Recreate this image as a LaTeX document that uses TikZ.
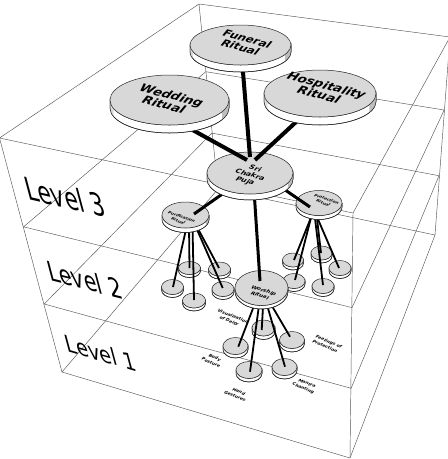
\documentclass[tikz,border=0pt]{standalone}
\usepackage{fontspec}
\setmainfont{DejaVu Sans}
\definecolor{discgray}{RGB}{216,216,216}
\definecolor{rimshade}{RGB}{190,190,190}
\definecolor{boxline}{RGB}{85,85,85}
\tikzset{
  boxedge/.style={draw=boxline, line width=0.45pt},
  connA/.style={draw=black, line width=4pt},
  connB/.style={draw=black, line width=3pt},
  connC/.style={draw=black, line width=1.8pt},
  disctop/.style={fill=discgray, draw=black!85, line width=0.5pt},
  discrim/.style={fill=white, draw=black!85, line width=0.5pt},
  rimend/.style={fill=rimshade},
  lvl/.style={font=\fontsize{30}{30}\selectfont, inner sep=0pt},
  bigtext/.style={align=center, inner sep=0pt, rotate=-15, xslant=0.45, yscale=0.85},
  midtext/.style={align=center, inner sep=0pt, rotate=-18, xslant=0.4, yscale=0.85},
  smalltext/.style={align=center, inner sep=0pt, rotate=-22, xslant=0.3, yscale=0.9,
    font=\bfseries\fontsize{4.5}{6.4}\selectfont}
}
% name, cx, cy, rx, ry, thickness
\newcommand\drawdisc[6]{%
  \coordinate (#1) at (#2,#3);
  \path[discrim] (#2-#4,#3) -- (#2-#4,#3+#6)
    arc[start angle=180,end angle=0,x radius=#4,y radius=#5]
    -- (#2+#4,#3)
    arc[start angle=0,end angle=180,x radius=#4,y radius=#5] -- cycle;
  \path[rimend] (#2+#4,#3) -- (#2+#4,#3+#6)
    arc[start angle=0,end angle=28,x radius=#4,y radius=#5]
    -- ++(0,-#6)
    arc[start angle=28,end angle=0,x radius=#4,y radius=#5] -- cycle;
  \path[fill=rimshade!55] (#2-#4,#3) -- (#2-#4,#3+#6)
    arc[start angle=180,end angle=160,x radius=#4,y radius=#5]
    -- ++(0,-#6)
    arc[start angle=160,end angle=180,x radius=#4,y radius=#5] -- cycle;
  \draw[black!85, line width=0.5pt] (#2-#4,#3) -- (#2-#4,#3+#6)
    arc[start angle=180,end angle=0,x radius=#4,y radius=#5] -- (#2+#4,#3);
  \path[disctop] (#1) ellipse[x radius=#4,y radius=#5];
}
\begin{document}
\begin{tikzpicture}[x=1pt,y=-1pt]
\useasboundingbox (0,0) rectangle (448,459);
\clip (0,0) rectangle (448,459);
% ---------- box ----------
\coordinate (fl0) at (-0.5,138);  \coordinate (fl1) at (23.6,226.8);
\coordinate (fl2) at (44.2,304);  \coordinate (fl3) at (62,372);
\coordinate (fr0) at (353,213);   \coordinate (fr1) at (352,307.6);
\coordinate (fr2) at (351.1,388.3); \coordinate (fr3) at (350,458);
\coordinate (br0) at (450,37);    \coordinate (br1) at (444.2,110);
\coordinate (br2) at (439,175.7); \coordinate (br3) at (435,235);
\coordinate (bl0) at (199,4);     \coordinate (bl1) at (205.8,71.7);
\coordinate (bl2) at (211.9,133.1); \coordinate (bl3) at (218,189);
\foreach \k in {0,...,3} \draw[boxedge] (fl\k) -- (fr\k) -- (br\k) -- (bl\k) -- cycle;
\foreach \c in {fl,fr,br,bl} \draw[boxedge] (\c0) -- (\c3);
% ---------- level labels ----------
\node[lvl, cm={0.737,-0.166,-0.28,1.05,(0,0)}] (lv3) at (65,197) {Level 3};
\node[lvl, cm={0.685,-0.171,-0.24,0.91,(0,0)}] (lv2) at (84.5,280) {Level 2};
\node[lvl, cm={0.652,-0.189,-0.21,0.78,(0,0)}] (lv1) at (100.5,353) {Level 1};
% ---------- level 1 leaves ----------
\drawdisc{vis}{263.5}{328}{11.5}{8}{3.5}
\drawdisc{feel}{292}{340}{12.5}{8.5}{3.5}
\drawdisc{body}{235.5}{346}{12.5}{8.5}{3.5}
\drawdisc{mantra}{284.5}{367}{12.5}{8.5}{3.5}
\drawdisc{hand}{249}{370}{13}{8.5}{3.5}
% ---------- level 2 leaves ----------
\drawdisc{pa}{189.5}{268}{11}{6.5}{3}
\drawdisc{pb}{219.5}{269}{11}{7}{3}
\drawdisc{pc}{172.5}{287}{11}{7.5}{3}
\drawdisc{pd}{223}{289}{11}{7.5}{3}
\drawdisc{pe}{194}{300.5}{11.5}{7.5}{3}
\drawdisc{qg}{321.5}{253}{10.5}{7}{3}
\drawdisc{qf}{293}{260}{10.5}{7}{3}
\drawdisc{qh}{340}{268}{11}{7.5}{3}
\drawdisc{qi}{294}{281}{11}{7.5}{3}
\drawdisc{qj}{323}{286}{11}{7.5}{3}
% ---------- leaf labels ----------
\node[smalltext] (tvis) at (231,319) {Visualization\\of Deity};
\node[smalltext] (tfeel) at (327,344) {Feelings of\\Protection};
\node[smalltext] (tbody) at (213,360) {Body\\Posture};
\node[smalltext] (thand) at (237,394) {Hand\\Gestures};
\node[smalltext] (tmantra) at (305,386) {Mantra\\Chanting};
% ---------- leaf connectors ----------
\coordinate (pur-oa) at (189,225);   \coordinate (pa-i) at (189.5,268);
\coordinate (pur-ob) at (196,225);   \coordinate (pb-i) at (219,268);
\coordinate (pur-oc) at (187,225);   \coordinate (pc-i) at (173,287);
\coordinate (pur-od) at (195,225);   \coordinate (pd-i) at (222.7,288);
\coordinate (pur-oe) at (192.5,225); \coordinate (pe-i) at (194,300);
\coordinate (pro-of) at (314,210);   \coordinate (qf-i) at (294,260);
\coordinate (pro-og) at (316,210);   \coordinate (qg-i) at (321,253);
\coordinate (pro-oh) at (314,210);   \coordinate (qh-i) at (339,268);
\coordinate (pro-oi) at (313,210);   \coordinate (qi-i) at (295,280);
\coordinate (pro-oj) at (314,210);   \coordinate (qj-i) at (323,285);
\coordinate (wor-ob) at (257,298);   \coordinate (body-i) at (238.3,346.7);
\coordinate (wor-oh) at (260,298);   \coordinate (hand-i) at (250,371.7);
\coordinate (wor-ov) at (263.5,298); \coordinate (vis-i) at (261.7,330);
\coordinate (wor-om) at (265,298);   \coordinate (mantra-i) at (285,366.7);
\coordinate (wor-of) at (267.3,298); \coordinate (feel-i) at (290,336.7);
\foreach \a/\b in {pur-oa/pa-i,pur-ob/pb-i,pur-oc/pc-i,pur-od/pd-i,pur-oe/pe-i,
  pro-of/qf-i,pro-og/qg-i,pro-oh/qh-i,pro-oi/qi-i,pro-oj/qj-i,
  wor-ob/body-i,wor-oh/hand-i,wor-ov/vis-i,wor-om/mantra-i,wor-of/feel-i}
  \draw[connC] (\a) -- (\b);
% ---------- middle discs ----------
\drawdisc{pro}{319}{203}{23}{12.5}{4}
\drawdisc{pur}{185.5}{215}{23.5}{13}{4.5}
\drawdisc{wor}{261.5}{288}{26.5}{17.5}{3.5}
\node[midtext, font=\bfseries\fontsize{4.3}{5.8}\selectfont] (tpro) at (325,201) {Protection\\Ritual};
\node[midtext, font=\bfseries\fontsize{4.3}{5.8}\selectfont] (tpur) at (180,219) {Purification\\Ritual};
\node[midtext, font=\bfseries\fontsize{5.5}{6.8}\selectfont] (twor) at (262,293) {Worship\\Ritual};
% ---------- Sri Chakra connectors ----------
\coordinate (sri-o1) at (228,190); \coordinate (pur-i) at (194,214);
\coordinate (sri-o2) at (275,183); \coordinate (pro-i) at (310,207);
\coordinate (sri-o3) at (254,190); \coordinate (wor-i) at (260,281);
\draw[connB] (sri-o1) -- (pur-i);
\draw[connB] (sri-o2) -- (pro-i);
\draw[connB] (sri-o3) -- (wor-i);
\drawdisc{sri}{250}{173}{43}{21}{6}
\node[bigtext, font=\bfseries\fontsize{7.5}{8.6}\selectfont] (tsri) at (250,175) {Sri\\Chakra\\Puja};
% ---------- top connectors ----------
\coordinate (fun-o) at (242,60);    \coordinate (sri-f) at (250,157);
\coordinate (wed-o) at (185,125.8); \coordinate (sri-w) at (247,160);
\coordinate (hos-o) at (305,113.7); \coordinate (sri-h) at (255,160);
\draw[connA] (fun-o) -- (sri-f);
\draw[connA] (wed-o) -- (sri-w);
\draw[connA] (hos-o) -- (sri-h);
% ---------- top discs ----------
\drawdisc{fun}{240.5}{45}{50.5}{20}{7}
\drawdisc{wed}{169.5}{100}{59.5}{25}{8}
\drawdisc{hos}{320}{93.5}{56}{23.5}{8}
\node[bigtext, font=\bfseries\fontsize{11.5}{11.5}\selectfont] (tfun) at (244,43) {Funeral\\Ritual};
\node[bigtext, font=\bfseries\fontsize{13}{13}\selectfont] (twed) at (168,100) {Wedding\\Ritual};
\node[bigtext, font=\bfseries\fontsize{13}{13}\selectfont] (thos) at (323,90) {Hospitality\\Ritual};
\end{tikzpicture}
\end{document}
